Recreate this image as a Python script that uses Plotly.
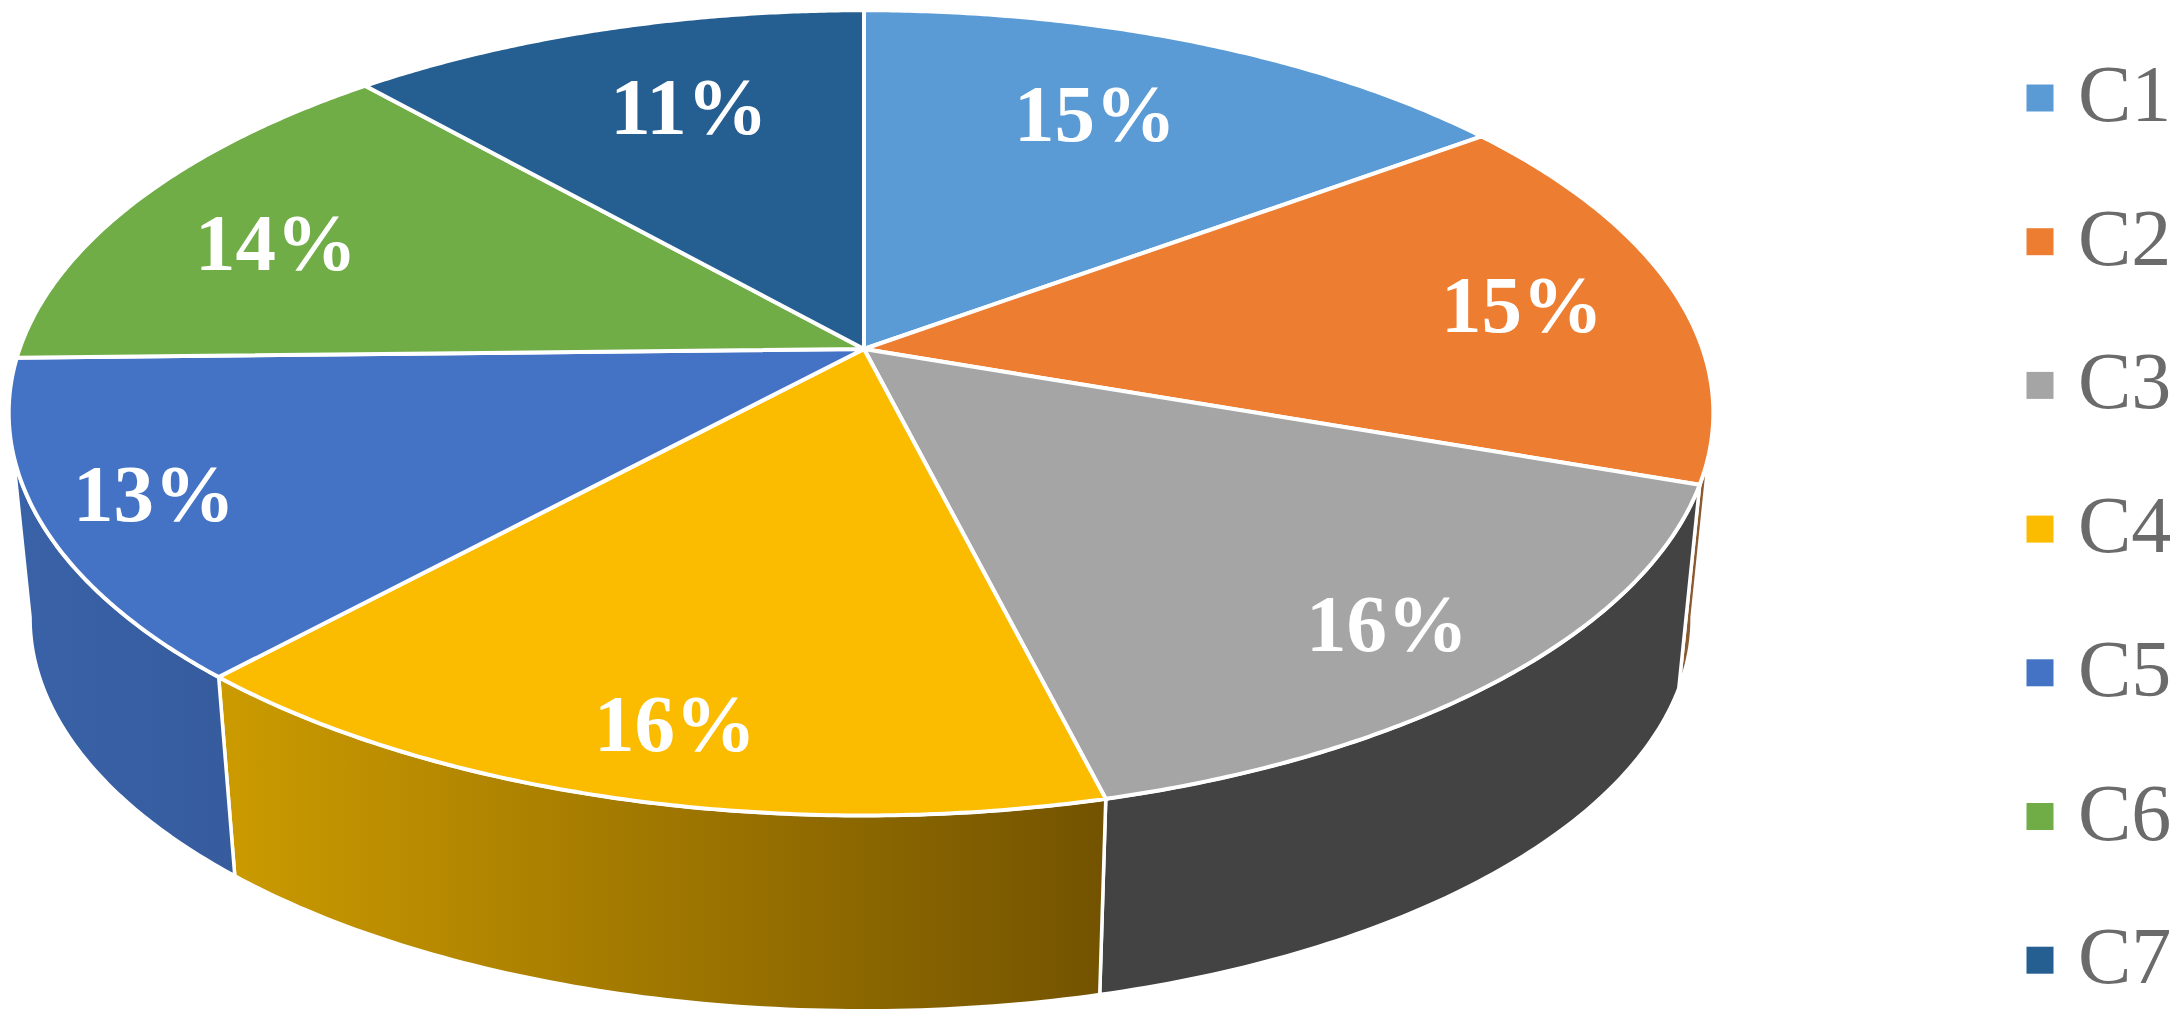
"""3D-style pie chart of the seven C shares, drawn on a pixel-sized Plotly axis."""

from __future__ import annotations

import numpy as np
import plotly.graph_objects as go

CATEGORIES = ["C1", "C2", "C3", "C4", "C5", "C6", "C7"]
SHARES = [14.9, 15.4, 15.75, 15.7, 12.85, 13.85, 11.49]

TOP_COLORS = ["#5B9BD5", "#ED7D31", "#A5A5A5", "#FBBC00", "#4472C4", "#70AD47", "#255E91"]
SIDE_GRADIENTS = [
    None,
    ("#8A5A30", "#8A5A30"),
    ("#434343", "#434343"),
    ("#CC9B00", "#735300"),
    ("#3A62A8", "#365C9E"),
    None,
    None,
]

LABEL_X = [1095, 1522, 1387, 675, 154, 276, 689]
LABEL_Y = [121, 312, 631, 731, 501, 250, 114]

WIDTH, HEIGHT = 2177, 1022
APEX_X, APEX_Y = 864.0, 349.0
RADIUS_X, RADIUS_Y = 838.6, 392.5
LEFT_STRETCH = 1.007  # the left half of the disc bulges a little further
TILT = 0.1586  # perspective: far edge of the disc looks smaller
DEPTH = 207.0
BOTTOM_SCALE = 0.975
VISIBLE_SIDE = (99.0, 261.0)  # degrees clockwise from the top


def rim(degrees: np.ndarray, scale: float = 1.0, drop: float = 0.0) -> tuple[np.ndarray, np.ndarray]:
    """Project angles on the unit circle to picture coordinates."""
    theta = np.radians(degrees)
    u, v = np.sin(theta), np.cos(theta)
    w = 1 + TILT * v
    stretch = np.where(u < 0, LEFT_STRETCH, 1.0)
    return APEX_X + scale * stretch * RADIUS_X * u / w, APEX_Y + drop - scale * RADIUS_Y * v / w


fig = go.Figure()
edges = np.cumsum([0.0] + SHARES) / sum(SHARES) * 360

# walls first, the top face covers whatever overlaps them
for i, gradient in enumerate(SIDE_GRADIENTS):
    start, end = max(edges[i], VISIBLE_SIDE[0]), min(edges[i + 1], VISIBLE_SIDE[1])
    if gradient is None or start >= end:
        continue
    angles = np.linspace(start, end, 80)
    top_x, top_y = rim(angles)
    low_x, low_y = rim(angles[::-1], BOTTOM_SCALE, DEPTH)
    fig.add_trace(
        go.Scatter(
            x=np.r_[top_x, low_x, top_x[:1]],
            y=np.r_[top_y, low_y, top_y[:1]],
            mode="lines",
            line={"color": "white", "width": 3.5, "simplify": False},
            fill="toself",
            fillgradient={
                "type": "horizontal",
                "colorscale": [[0, gradient[0]], [1, gradient[1]]],
            },
            hoverinfo="skip",
            showlegend=False,
        )
    )

for i, color in enumerate(TOP_COLORS):
    angles = np.linspace(edges[i], edges[i + 1], 120)
    rim_x, rim_y = rim(angles)
    fig.add_trace(
        go.Scatter(
            x=np.r_[APEX_X, rim_x, APEX_X],
            y=np.r_[APEX_Y, rim_y, APEX_Y],
            mode="lines",
            line={"color": "white", "width": 4, "simplify": False},
            fill="toself",
            fillcolor=color,
            name=CATEGORIES[i],
            hoverinfo="name",
            showlegend=False,
        )
    )

fig.add_trace(
    go.Scatter(
        x=LABEL_X,
        y=LABEL_Y,
        mode="text",
        text=[f"{round(share)}%" for share in SHARES],
        textposition="middle center",
        textfont={"family": "Liberation Serif", "size": 81, "color": "white", "weight": "bold"},
        hoverinfo="skip",
        showlegend=False,
    )
)

# legend column, placed by hand because the built-in one cannot space out like this
legend_y = [98 + 143.7 * i for i in range(len(CATEGORIES))]
fig.add_trace(
    go.Scatter(
        x=[2040] * len(CATEGORIES),
        y=legend_y,
        mode="markers",
        marker={"symbol": "square", "size": 27, "color": TOP_COLORS, "line": {"width": 0}},
        hoverinfo="skip",
        showlegend=False,
    )
)
fig.add_trace(
    go.Scatter(
        x=[2078] * len(CATEGORIES),
        y=[y + 3 for y in legend_y],
        mode="text",
        text=CATEGORIES,
        textposition="middle right",
        textfont={"family": "Liberation Serif", "size": 80, "color": "#6B6B6B"},
        hoverinfo="skip",
        showlegend=False,
    )
)

fig.update_xaxes(range=[0, WIDTH], visible=False)
fig.update_yaxes(range=[HEIGHT, 0], visible=False)
fig.update_layout(
    width=WIDTH,
    height=HEIGHT,
    margin={"l": 0, "r": 0, "t": 0, "b": 0},
    paper_bgcolor="white",
    plot_bgcolor="white",
)

fig.write_html(
    "out.html",
    config={"displayModeBar": False},
    post_script="document.body.style.margin='0';document.body.style.overflow='hidden';",
)
